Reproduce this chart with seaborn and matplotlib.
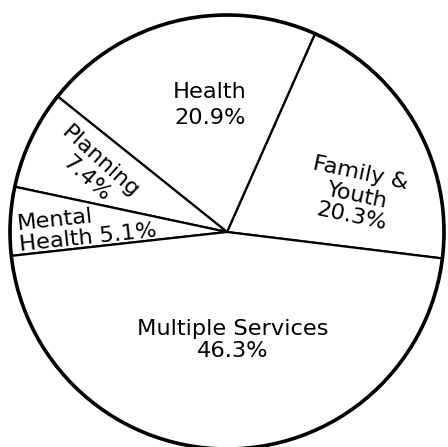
import matplotlib
matplotlib.use("Agg")
import matplotlib.pyplot as plt
import seaborn as sns

# shares of funding by service area (percent), counterclockwise from the right
categories = ["Family & Youth", "Health", "Planning", "Mental Health", "Multiple Services"]
shares = [20.3, 20.9, 7.4, 5.1, 46.3]

# how each category name is broken over lines in the label
label_names = ["Family &\nYouth", "Health", "Planning", "Mental\nHealth", "Multiple Services"]
label_seps = ["\n", "\n", "\n", " ", "\n"]

sns.set_theme(style="white")
plt.rcParams["font.family"] = ["DejaVu Sans"]

fig = plt.figure(figsize=(4.48, 4.47), dpi=100)
ax = fig.add_axes([0, 0, 1, 1])

wedges, _ = ax.pie(shares, startangle=-7, counterclock=True,
                   colors=["white"] * len(shares),
                   wedgeprops=dict(edgecolor="black", linewidth=1.6))
ax.add_patch(plt.Circle((0, 0), 1, fill=False, ec="black", lw=2.6))

# text placement: (x, y, rotation, ha, va, linespacing)
place = [
    (0.595, 0.17, -12, "center", "center", 1.15),
    (-0.078, 0.585, 0, "center", "center", 1.33),
    (-0.615, 0.285, -42, "center", "center", 1.1),
    (-0.954, -0.083, 6, "left", "baseline", 1.05),
    (0.028, -0.498, 0, "center", "center", 1.1),
]

for name, sep, v, (x, y, rot, ha, va, ls) in zip(label_names, label_seps, shares, place):
    ax.text(x, y, f"{name}{sep}{v}%", ha=ha, va=va, rotation=rot,
            rotation_mode="anchor", multialignment=ha, linespacing=ls,
            fontsize=16.2, color="black")

ax.set_xlim(-227 / 217, 221 / 217)
ax.set_ylim(-215 / 217, 232 / 217)
ax.set_aspect("auto")
ax.axis("off")

fig.savefig("out.png", dpi=100, facecolor="white")
